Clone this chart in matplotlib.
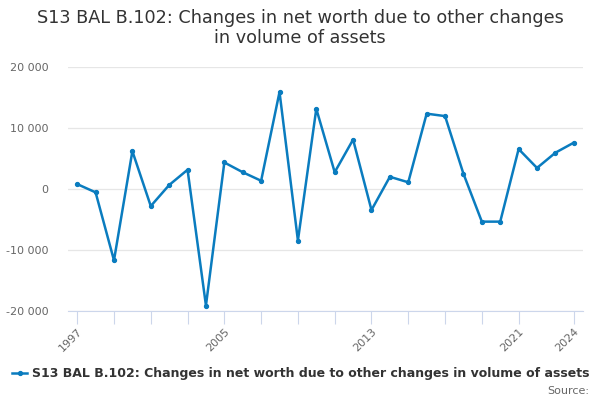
import matplotlib
matplotlib.use("Agg")
import matplotlib.pyplot as plt
from matplotlib.ticker import FuncFormatter
from matplotlib.lines import Line2D

years = list(range(1997, 2025))
values = [800, -550, -11700, 6200, -2800, 650, 3150, -19100, 4350, 2750, 1350, 15900,
          -8450, 13150, 2750, 8100, -3450, 2000, 1100, 12350, 11950, 2500, -5350, -5350,
          6550, 3450, 5950, 7600]
tick_years = [1997, 1999, 2001, 2003, 2005, 2007, 2009, 2011, 2013, 2015, 2017, 2019, 2021, 2024]
label_years = [1997, 2005, 2013, 2021, 2024]
yticks = [-20000, -10000, 0, 10000, 20000]
title = "S13 BAL B.102: Changes in net worth due to other changes\nin volume of assets"
series_name = "S13 BAL B.102: Changes in net worth due to other changes in volume of assets"

color = "#0a7cbf"
fig = plt.figure(figsize=(6, 4), dpi=100)
ax = fig.add_axes([68/600, 1-311/400, (583-68)/600, (311-67)/400])
ax.plot(years, values, color=color, lw=1.8, marker="o", ms=2.8)
ax.set_xlim(1996.5, 2024.5)
ax.set_ylim(-20000, 20000)
ax.set_yticks(yticks)
ax.yaxis.set_major_formatter(FuncFormatter(lambda v, p: f"{int(v):,}".replace(",", " ")))
ax.grid(axis="y", color="#e6e6e6", lw=0.9)
ax.set_axisbelow(True)
for s in ["top", "right", "left"]:
    ax.spines[s].set_visible(False)
ax.spines["bottom"].set_color("#ccd6eb")
ax.tick_params(axis="y", length=0, labelsize=8, labelcolor="#666666", pad=14)
ax.set_xticks(tick_years)
ax.set_xticklabels([str(y) if y in label_years else "" for y in tick_years],
                   rotation=45, ha="right", rotation_mode="anchor")
ax.tick_params(axis="x", length=9, color="#ccd6eb", labelsize=8, labelcolor="#666666", pad=2)

fig.text(0.5, 0.978, title, ha="center", va="top", fontsize=12.7, color="#333333", linespacing=1.15)
fig.lines.append(Line2D([12/600, 27/600], [1-373/400]*2, color=color, lw=1.8,
                        transform=fig.transFigure))
fig.lines.append(Line2D([19.5/600], [1-373/400], color=color, marker="o", ms=2.8,
                        transform=fig.transFigure))
fig.text(32/600, 1-373/400, series_name, ha="left", va="center", fontsize=9,
         fontweight="bold", color="#333333")
fig.text(589/600, 1-391/400, "Source:", ha="right", va="center", fontsize=8, color="#666666")
fig.savefig("out.png", dpi=100)
